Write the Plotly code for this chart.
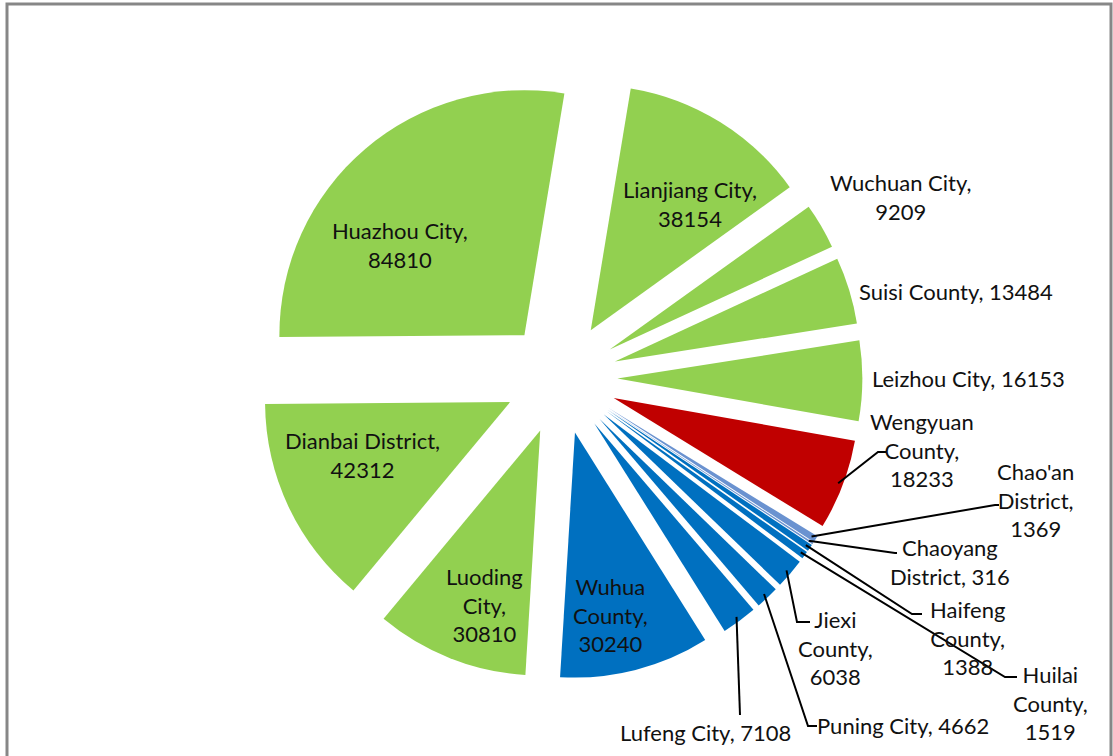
import math
import plotly.graph_objects as go

# slices, clockwise from Lianjiang
labels = ["Lianjiang City", "Wuchuan City", "Suisi County", "Leizhou City", "Wengyuan County",
          "Chao'an District", "Chaoyang District", "Haifeng County", "Huilai County", "Jiexi County",
          "Puning City", "Lufeng City", "Wuhua County", "Luoding City", "Dianbai District", "Huazhou City"]
values = [38154, 9209, 13484, 16153, 18233, 1369, 316, 1388, 1519, 6038, 4662, 7108, 30240, 30810, 42312, 84810]
colors = ["#92D050", "#92D050", "#92D050", "#92D050", "#C00000",
          "#6A92D0", "#6A92D0", "#0070C0", "#0070C0", "#0070C0",
          "#0070C0", "#0070C0", "#0070C0", "#92D050", "#92D050", "#92D050"]

W, H = 1113, 756
CX, CY, R, PULL = 561, 378, 245, 0.23
ROT = 9.4
FONT = dict(family="Lato, Open Sans, sans-serif", size=22, color="#111111")

fig = go.Figure(go.Pie(
    labels=labels,
    values=values,
    sort=False,
    direction="clockwise",
    rotation=ROT,
    pull=PULL,
    marker=dict(colors=colors, line=dict(width=0)),
    textinfo="none",
    hoverinfo="label+value",
    showlegend=False,
    domain=dict(x=[(CX - R * (1 + PULL)) / W, (CX + R * (1 + PULL)) / W],
                y=[1 - (CY + R * (1 + PULL)) / H, 1 - (CY - R * (1 + PULL)) / H]),
))


def slice_point(name, frac=0.5, rad=1.0):
    # point on a pulled slice, from the cumulative values
    total = sum(values)
    i = labels.index(name)
    start = ROT + 360 * sum(values[:i]) / total
    span = 360 * values[i] / total
    mid = math.radians(start + span / 2)
    a = math.radians(start + span * frac)
    x = CX + PULL * R * math.sin(mid) + rad * R * math.sin(a)
    y = CY - PULL * R * math.cos(mid) - rad * R * math.cos(a)
    return x, y


def label_text(name, breaks):
    # how the "name, value" label wraps
    words = name.split(" ")
    v = values[labels.index(name)]
    if breaks == 1:
        return f"{name},<br>{v}"
    if breaks == 2:
        return f"{words[0]}<br>{words[1]},<br>{v}"
    if breaks == 3:
        return f"{words[0]}<br>{words[1]}, {v}"
    return f"{name}, {v}"


# labels: (slice, wrap style, label x, label y, leader line elbow points)
data_labels = [
    ("Huazhou City", 1, 400, 245, None),
    ("Lianjiang City", 1, 690, 204, None),
    ("Dianbai District", 1, 362, 455, None),
    ("Luoding City", 2, 484, 605, None),
    ("Wuhua County", 2, 610, 615, None),
    ("Wuchuan City", 1, 900, 197, None),
    ("Suisi County", 0, 956, 291, None),
    ("Leizhou City", 0, 968, 378, None),
    ("Wengyuan County", 2, 922, 450, [(878, 452), (886, 452)]),
    ("Chao'an District", 2, 1035, 500, [(995, 505), (999, 505)]),
    ("Chaoyang District", 3, 950, 562, [(895, 553), (897, 553)]),
    ("Haifeng County", 2, 967, 638, [(912, 614), (922, 614)]),
    ("Huilai County", 2, 1050, 703, [(1005, 677), (1017, 677)]),
    ("Jiexi County", 2, 835, 648, [(797, 622), (810, 622)]),
    ("Puning City", 0, 903, 725, [(808, 726), (817, 726)]),
    ("Lufeng City", 0, 705, 732, [(740, 715)]),
]

for name, wrap, tx, ty, elbow in data_labels:
    fig.add_annotation(x=tx / W, y=1 - ty / H, xref="paper", yref="paper",
                       text=label_text(name, wrap), showarrow=False, font=FONT,
                       align="center", xanchor="center", yanchor="middle")
    if elbow:
        x0, y0 = slice_point(name, 0.5, 0.98)
        pts = [(x0, y0)] + elbow
        path = "M " + " L ".join(f"{px / W},{1 - py / H}" for px, py in pts)
        fig.add_shape(type="path", path=path, xref="paper", yref="paper",
                      line=dict(color="#000000", width=2))

# chart frame
fig.add_shape(type="rect", xref="paper", yref="paper", x0=7 / W, x1=1111 / W, y0=-0.05, y1=1 - 4 / H,
              line=dict(color="#878787", width=3))

fig.update_layout(width=W, height=H, margin=dict(l=0, r=0, t=0, b=0),
                  paper_bgcolor="white", plot_bgcolor="white")

fig.write_html("out.html", config={"displayModeBar": False},
               post_script="document.body.style.margin='0px';")
